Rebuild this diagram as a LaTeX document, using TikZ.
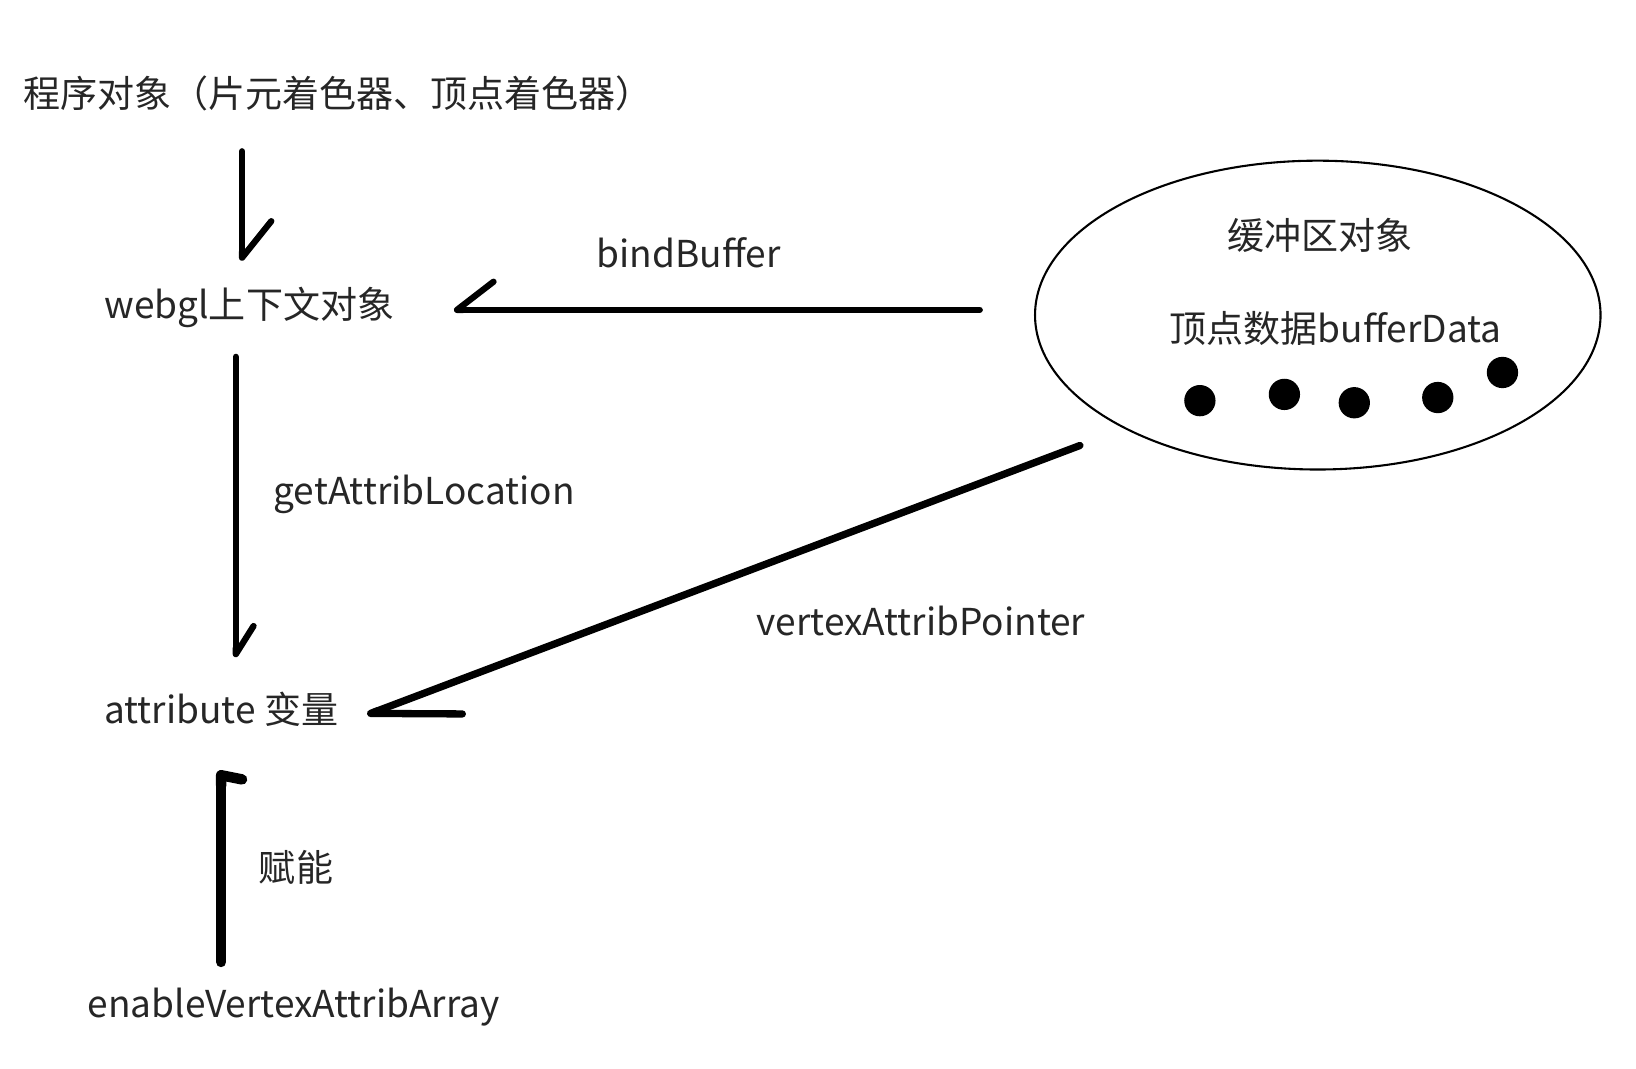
\documentclass[tikz,border=0pt]{standalone}
\usepackage{fontspec}
\setmainfont{Noto Sans CJK SC}
\usetikzlibrary{arrows.meta,shapes.geometric,calc}
\tikzset{
  txt/.style={inner sep=0pt, anchor=west, text height=31pt, text depth=4.5pt,
    font=\fontsize{35.5}{42}\selectfont, text=black!85},
  arr/.style={line width=6pt, line cap=round, line join=round}
}
\begin{document}
\begin{tikzpicture}[x=1pt,y=-1pt]
  \useasboundingbox (0,0) rectangle (1568,1024);
  \node[txt] (prog) at (22,90) {程序对象（片元着色器、顶点着色器）};
  \node[txt] (ctx) at (100,292) {webgl上下文对象};
  \node[txt] (attr) at (100,680) {attribute 变量};
  \node[txt] (enable) at (84,962) {enableVertexAttribArray};
  \node[draw, ellipse, line width=2pt, minimum width=542pt, minimum height=296pt, inner sep=0pt] (buf) at (1263,302) {};
  \node[txt, anchor=center] (bufname) at (1265,226) {缓冲区对象};
  \node[txt, anchor=center] (bufdata) at (1280,315) {顶点数据bufferData};
  \foreach \x/\y in {1150/384,1231/378,1298/386,1378/381,1440/357}
    \fill (\x,\y) circle (15pt);
  \node[txt, anchor=center] (lbind) at (660,243) {bindBuffer};
  \node[txt] (lget) at (262,470) {getAttribLocation};
  \node[txt] (lptr) at (725,596) {vertexAttribPointer};
  \node[txt] (lena) at (248,832) {赋能};
  \draw[arr, -{Straight Barb[harpoon,round,length=35pt,width=56pt]}] ($(prog.west)+(210,55)$) -- ($(ctx.west)+(132,-42)$);
  \draw[arr, -{Straight Barb[harpoon,swap,round,length=35pt,width=54pt]}] ($(buf.west)+(-52,-5)$) -- ($(ctx.west)+(335,5)$);
  \draw[arr, -{Straight Barb[harpoon,round,length=27pt,width=34pt]}] ($(ctx.west)+(126,50)$) -- ($(attr.west)+(126,-50)$);
  \draw[arr, line width=7pt, -{Straight Barb[harpoon,round,length=82pt,width=63pt]}] ($(buf.center)+(-228,125)$) -- ($(attr.west)+(252,5)$);
  \draw[arr, line width=10pt, -{Straight Barb[harpoon,swap,round,length=4pt,width=40pt]}] ($(enable.west)+(128,-40)$) -- ($(attr.west)+(112,58)$);
\end{tikzpicture}
\end{document}
